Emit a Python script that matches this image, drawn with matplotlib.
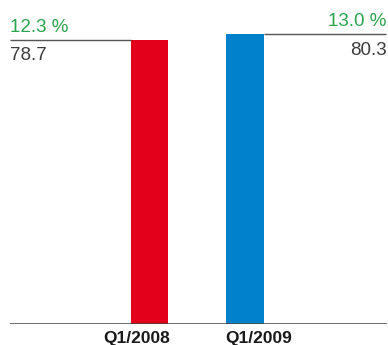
import matplotlib
matplotlib.use('Agg')
import matplotlib.pyplot as plt

plt.rcParams['font.family'] = ['Liberation Sans', 'DejaVu Sans']

# ----------------------------
periods = ['Q1/2008', 'Q1/2009']
values  = [78.7, 80.3]
margins = ['12.3 %', '13.0 %']
colors  = ['#e2001a', '#0081c9']

green   = '#2ba24c'
grey    = '#3c3c3c'
# ----------------------------
fig = plt.figure(figsize=(3.88, 3.45), dpi=100)
ax  = fig.add_axes([0, 21 / 345, 1, 324 / 345])
ax.set_xlim(-1.565, 2.497)
ax.set_ylim(0, 89.8)
ax.axis('off')

xpos  = list(range(len(values)))
width = 0.39
ax.bar(xpos, values, width=width, color=colors, zorder=2)

xmin, xmax = -1.461, 2.48
# baseline
ax.hlines(0, xmin, xmax + 0.01, color='#444444', lw=1.1, zorder=3)

# reference lines running from the bar towards the outer edge
ax.hlines(values[0], xmin, xpos[0] - width / 2, color='#555555', lw=1.0)
ax.hlines(values[1], xpos[1] + width / 2, xmax, color='#555555', lw=1.0)

ax.annotate(margins[0], (xmin, values[0]), xytext=(0, 9), textcoords='offset points',
            ha='left', va='center', color=green, fontsize=13.5)
ax.annotate(f'{values[0]:.1f}', (xmin, values[0]), xytext=(0, -11), textcoords='offset points',
            ha='left', va='center', color=grey, fontsize=13.5)
ax.annotate(margins[1], (xmax, values[1]), xytext=(0, 9), textcoords='offset points',
            ha='right', va='center', color=green, fontsize=13.5)
ax.annotate(f'{values[1]:.1f}', (xmax, values[1]), xytext=(0, -12), textcoords='offset points',
            ha='right', va='center', color=grey, fontsize=13.5)

# period labels under the baseline
offsets = [-9.5, 9.7]
for x, label, off in zip(xpos, periods, offsets):
    ax.annotate(label, (x, 0), xytext=(off, -10.5), textcoords='offset points',
                ha='center', va='center', color='#1a1a1a', fontsize=12.5, fontweight='bold')

fig.savefig('out.png', dpi=100)
